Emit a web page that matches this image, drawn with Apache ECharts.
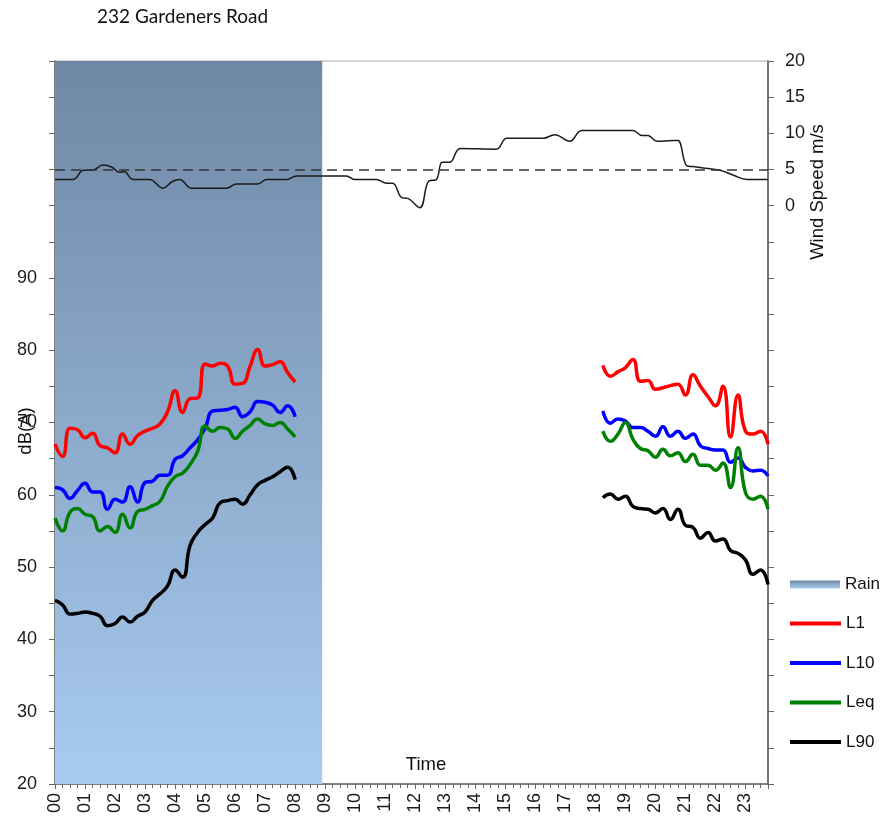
<!DOCTYPE html>
<html>
<head>
<meta charset="utf-8">
<script src="https://cdn.jsdelivr.net/npm/echarts@6/dist/echarts.min.js"></script>
<style>
  html, body { margin: 0; padding: 0; background: #fff; }
  #grafico { width: 882px; height: 820px; }
</style>
</head>
<body>
<div id="grafico"></div>
<script>
// horas de las mediciones (15 min)
var morningHours = [0, 0.25, 0.5, 0.75, 1, 1.25, 1.5, 1.75, 2, 2.25, 2.5, 2.75, 3, 3.25, 3.5, 3.75,
    4, 4.25, 4.5, 4.75, 5, 5.25, 5.5, 5.75, 6, 6.25, 6.5, 6.75, 7, 7.25, 7.5, 7.75, 8];
var eveningHours = [18.25, 18.5, 18.75, 19, 19.25, 19.5, 19.75, 20, 20.25, 20.5, 20.75, 21, 21.25,
    21.5, 21.75, 22, 22.25, 22.5, 22.75, 23, 23.25, 23.5, 23.75];

var l1Morning = [67.0, 65.3, 69.2, 69.0, 67.9, 68.5, 66.8, 66.5, 65.8, 68.4, 67.0, 68.2, 68.8, 69.2, 69.8, 71.5,
    74.4, 71.4, 73.3, 73.4, 78.1, 77.8, 78.2, 77.8, 75.3, 75.4, 77.8, 80.1, 77.8, 78.0, 78.4, 76.9, 75.6];
var l1Evening = [77.9, 76.4, 77.0, 77.6, 78.7, 75.7, 75.8, 74.6, 74.8, 75.1, 75.3, 73.8, 76.6,
    75.0, 73.6, 72.3, 75.0, 68.0, 73.8, 68.8, 68.4, 68.8, 67.0];

var l10Morning = [61.0, 60.7, 59.5, 60.6, 61.6, 60.4, 60.4, 58.0, 59.4, 59.0, 61.1, 59.0, 61.7, 61.9, 62.7, 62.7,
    64.9, 65.4, 66.5, 67.6, 69.2, 71.6, 71.7, 71.8, 72.1, 70.8, 71.5, 72.9, 72.8, 72.4, 71.4, 72.3, 70.8];
var l10Evening = [71.6, 69.9, 70.5, 70.2, 69.3, 69.3, 68.8, 68.1, 69.4, 68.1, 68.8, 67.8, 68.4,
    66.8, 66.4, 66.2, 66.2, 64.5, 65.1, 63.8, 63.3, 63.4, 62.6];

var leqMorning = [56.8, 55.0, 57.6, 58.1, 57.3, 57.0, 55.0, 55.6, 54.8, 57.3, 55.4, 57.7, 58.0, 58.5, 59.1, 61.2,
    62.5, 63.0, 64.2, 66.0, 69.5, 68.8, 69.3, 69.1, 67.8, 68.8, 69.6, 70.5, 69.8, 69.6, 70.0, 69.1, 68.0];
var leqEvening = [68.8, 67.4, 68.4, 70.0, 67.7, 66.4, 66.1, 65.2, 66.3, 65.4, 65.8, 64.6, 65.6,
    64.1, 64.1, 63.4, 64.4, 61.0, 66.5, 60.3, 59.4, 59.8, 58.0];

var l90Morning = [45.4, 44.8, 43.5, 43.6, 43.8, 43.6, 43.2, 41.9, 42.2, 43.1, 42.4, 43.2, 43.8, 45.4, 46.3, 47.4,
    49.6, 48.6, 53.0, 54.8, 55.9, 56.8, 58.9, 59.2, 59.4, 58.7, 60.0, 61.4, 62.0, 62.5, 63.2, 63.8, 62.1];
var l90Evening = [59.6, 60.1, 59.4, 59.8, 58.4, 58.1, 58.0, 57.5, 58.1, 56.6, 58.0, 55.8, 55.5,
    54.0, 54.8, 53.6, 53.9, 52.3, 51.9, 51.0, 49.0, 49.6, 47.6];

// viento
var windHours = [0, 0.6, 0.95, 1.25, 1.6, 1.9, 2.15, 2.3, 2.6, 3.15, 3.6, 3.9, 4.15, 4.55, 5.7, 6.05, 6.75,
    7.05, 7.7, 8.05, 9.7, 10.0, 10.7, 11.05, 11.25, 11.55, 11.75, 12.15, 12.45, 12.7, 12.9, 13.15, 13.5,
    14.7, 15.05, 16.25, 16.65, 17.15, 17.55, 19.25, 19.55, 19.75, 20.05, 20.6, 20.75, 21.05, 21.25, 21.6,
    22.15, 22.6, 23.05, 23.75];
var windSpeed = [3.6, 3.6, 4.9, 4.9, 5.6, 5.3, 4.6, 4.7, 3.6, 3.6, 2.4, 3.3, 3.6, 2.4, 2.4, 3.0, 3.0,
    3.6, 3.6, 4.1, 4.1, 3.6, 3.6, 3.1, 3.1, 1.1, 1.0, -0.3, 3.4, 3.6, 6.0, 6.0, 7.9,
    7.8, 9.3, 9.3, 9.8, 8.9, 10.4, 10.4, 9.7, 9.7, 8.9, 9.0, 9.0, 5.5, 5.4, 5.2,
    4.9, 4.2, 3.6, 3.6];
var windLimit = 5;

var rainPeriod = [0, 8.9];

var dom = document.getElementById('grafico');
var myChart = echarts.init(dom, null, { renderer: 'canvas' });

var fuente = 'Liberation Sans, Arial, sans-serif';

function pairs(hs, vs) {
    return hs.map(function (h, i) { return [h, vs[i]]; });
}
function noise(m, e) {
    // hueco entre la manana y la tarde
    return pairs(morningHours, m).concat([[13, '-']], pairs(eveningHours, e));
}

var rainColor = {
    type: 'linear', x: 0, y: 0, x2: 0, y2: 1,
    colorStops: [{ offset: 0, color: '#6f88a5' }, { offset: 1, color: '#a8cbf0' }]
};

function noiseSeries(name, color, data) {
    return {
        name: name,
        type: 'line',
        yAxisIndex: 0,
        data: data,
        smooth: 0.5,
        showSymbol: false,
        symbol: 'none',
        connectNulls: false,
        lineStyle: { color: color, width: 3.5 },
        itemStyle: { color: color },
        z: 4
    };
}

var option = {
    animation: false,
    title: {
        text: '232 Gardeners Road',
        left: 97,
        top: 7,
        padding: 0,
        textStyle: { fontFamily: 'Lato', fontSize: 19, fontWeight: 'normal', color: '#111' }
    },
    grid: {
        left: 55, right: 114, top: 61, bottom: 36,
        show: true, borderColor: '#aaa', borderWidth: 1
    },
    legend: [
        {
            orient: 'vertical',
            left: 790,
            top: 576,
            padding: 0,
            itemWidth: 50,
            itemHeight: 8,
            icon: 'rect',
            textStyle: { fontFamily: fuente, fontSize: 17, color: '#111' },
            data: [{ name: 'Rain', itemStyle: { color: rainColor } }]
        },
        {
            orient: 'vertical',
            left: 790,
            top: 615,
            padding: 0,
            itemWidth: 51,
            itemHeight: 4,
            itemGap: 22.5,
            icon: 'rect',
            textStyle: { fontFamily: fuente, fontSize: 17, color: '#111' },
            data: ['L1', 'L10', 'Leq', 'L90']
        }
    ],
    xAxis: {
        type: 'value',
        min: 0,
        max: 23.75,
        interval: 1,
        axisLine: { show: true, onZero: false, lineStyle: { color: '#666', width: 1.5 } },
        axisTick: { show: true, length: 5, lineStyle: { color: '#666' } },
        minorTick: { show: true, splitNumber: 4, length: 4, lineStyle: { color: '#666' } },
        splitLine: { show: false },
        axisLabel: {
            rotate: 90,
            margin: 9,
            fontFamily: fuente,
            fontSize: 18,
            color: '#1a1a1a',
            showMaxLabel: false,
            formatter: function (v) {
                if (v % 1 !== 0 || v > 23) return '';
                return (v < 10 ? '0' : '') + v;
            }
        }
    },
    yAxis: [
        {
            type: 'value',
            min: 20,
            max: 120,
            interval: 5,
            position: 'left',
            axisLine: { show: true, onZero: false, lineStyle: { color: '#666', width: 1.5 } },
            axisTick: { show: true, length: 6, lineStyle: { color: '#666' } },
            splitLine: { show: false },
            axisLabel: {
                margin: 18,
                fontFamily: fuente,
                fontSize: 18,
                color: '#1a1a1a',
                formatter: function (v) {
                    return (v <= 90 && v % 10 === 0) ? String(v) : '';
                }
            }
        },
        {
            type: 'value',
            min: -80,
            max: 20,
            interval: 5,
            position: 'right',
            axisLine: { show: true, onZero: false, lineStyle: { color: '#555', width: 1.5 } },
            axisTick: { show: true, length: 6, lineStyle: { color: '#666' } },
            splitLine: { show: false },
            axisLabel: {
                margin: 17,
                fontFamily: fuente,
                fontSize: 18,
                color: '#1a1a1a',
                formatter: function (v) {
                    return v >= 0 ? String(v) : '';
                }
            }
        }
    ],
    graphic: [
        {
            type: 'text', x: 426, y: 765, silent: true,
            style: { text: 'Time', align: 'center', verticalAlign: 'middle', font: '18.5px ' + fuente, fill: '#111' }
        },
        {
            type: 'text', x: 818, y: 192, rotation: Math.PI / 2, silent: true,
            style: { text: 'Wind Speed m/s', align: 'center', verticalAlign: 'middle', font: '18.5px ' + fuente, fill: '#111' }
        },
        {
            type: 'text', x: 26, y: 431, rotation: Math.PI / 2, silent: true,
            style: { text: 'dB(A)', align: 'center', verticalAlign: 'middle', font: '18.5px ' + fuente, fill: '#111' }
        }
    ],
    series: [
        {
            name: 'Rain',
            type: 'line',
            data: [],
            itemStyle: { color: rainColor },
            lineStyle: { color: rainColor },
            z: 1,
            markArea: {
                silent: true,
                itemStyle: { color: rainColor, opacity: 1 },
                data: [[{ xAxis: rainPeriod[0] }, { xAxis: rainPeriod[1] }]]
            }
        },
        {
            name: 'Wind',
            type: 'line',
            yAxisIndex: 1,
            data: pairs(windHours, windSpeed),
            smooth: 0.4,
            symbol: 'none',
            lineStyle: { color: '#1a1a1a', width: 1.5 },
            itemStyle: { color: '#1a1a1a' },
            z: 3,
            markLine: {
                silent: true,
                symbol: ['none', 'none'],
                label: { show: false },
                lineStyle: { color: '#333', width: 1.5, type: [10, 6] },
                data: [{ yAxis: windLimit }]
            }
        },
        noiseSeries('L1', '#ff0000', noise(l1Morning, l1Evening)),
        noiseSeries('L10', '#0000ff', noise(l10Morning, l10Evening)),
        noiseSeries('Leq', '#008000', noise(leqMorning, leqEvening)),
        noiseSeries('L90', '#000000', noise(l90Morning, l90Evening))
    ]
};

if (option && typeof option === 'object') {
    myChart.setOption(option);
}

window.addEventListener('resize', myChart.resize);
</script>
</body>
</html>
